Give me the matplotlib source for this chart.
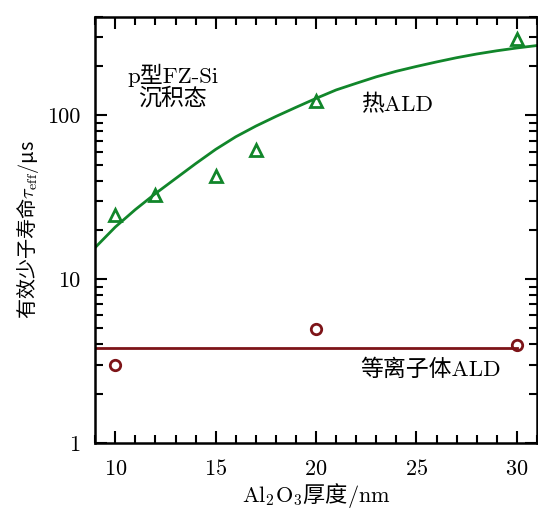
import matplotlib
matplotlib.use('Agg')
import matplotlib.pyplot as plt
from matplotlib.ticker import MultipleLocator, LogLocator, FixedLocator, FixedFormatter, NullFormatter

plt.rcParams['font.family'] = ['cmr10', 'Noto Sans CJK SC', 'DejaVu Sans']
plt.rcParams['mathtext.fontset'] = 'cm'
plt.rcParams['axes.formatter.use_mathtext'] = True

# thermal ALD points
x_th = [10, 12, 15, 17, 20, 30]
y_th = [24.5, 32.7, 42.9, 61.5, 123, 294]
# fit curve
x_fit = [9, 10, 11, 12, 13, 14, 15, 16, 17, 18, 19, 20, 21, 22, 23, 24, 25, 26, 27, 28, 29, 30, 31]
y_fit = [15.6, 20.8, 26.6, 33.3, 41.1, 50.7, 62, 74, 86, 98.5, 112, 127, 143, 157, 172, 186, 199, 212, 225, 237, 248, 258, 267]
# plasma ALD points
x_pl = [10, 20, 30]
y_pl = [3.0, 4.95, 3.95]
x_pl_line = [9, 30]
y_pl_line = [3.8, 3.8]

green = '#11862a'
red = '#7d1418'

fig = plt.figure(figsize=(5.38, 5.09), dpi=100)
ax = fig.add_axes([0.177, 0.130, 0.821, 0.837])

ax.plot(x_fit, y_fit, color=green, lw=2)
ax.plot(x_th, y_th, '^', ms=8.5, mfc='none', mec=green, mew=2)
ax.plot(x_pl_line, y_pl_line, color=red, lw=2)
ax.plot(x_pl, y_pl, 'o', ms=7.5, mfc='none', mec=red, mew=2)

ax.set_yscale('log')
ax.set_xlim(9, 31)
ax.set_ylim(1, 400)
ax.xaxis.set_major_locator(MultipleLocator(5))
ax.xaxis.set_minor_locator(MultipleLocator(1))
ax.yaxis.set_major_locator(FixedLocator([1, 10, 100]))
ax.yaxis.set_major_formatter(FixedFormatter(['1', '10', '100']))
ax.yaxis.set_minor_locator(LogLocator(base=10, subs=range(2, 10)))
ax.yaxis.set_minor_formatter(NullFormatter())
ax.tick_params(which='both', direction='in', top=True, right=True, width=1.5, labelsize=16)
ax.tick_params(axis='x', pad=12)
ax.tick_params(axis='y', pad=11)
ax.tick_params(which='major', length=8.5)
ax.tick_params(which='minor', length=5.5)
for s in ax.spines.values():
    s.set_linewidth(1.8)

ax.set_xlabel('$\\mathrm{Al_2O_3}$厚度$/\\mathrm{nm}$', fontsize=16, family='Noto Sans CJK SC', labelpad=1)
ax.set_ylabel('有效少子寿命$\\tau_{\\rm eff}/$μs', fontsize=14.5, family='Noto Sans CJK SC', labelpad=4)

ax.text(12.85, 150, 'p型FZ-Si\n沉积态', ha='center', va='center', fontsize=16.5, linespacing=1.0)
ax.text(24.05, 117, '热ALD', ha='center', va='center', fontsize=16.5)
ax.text(25.7, 2.82, '等离子体ALD', ha='center', va='center', fontsize=16.5)

fig.savefig('out.png', dpi=100)
